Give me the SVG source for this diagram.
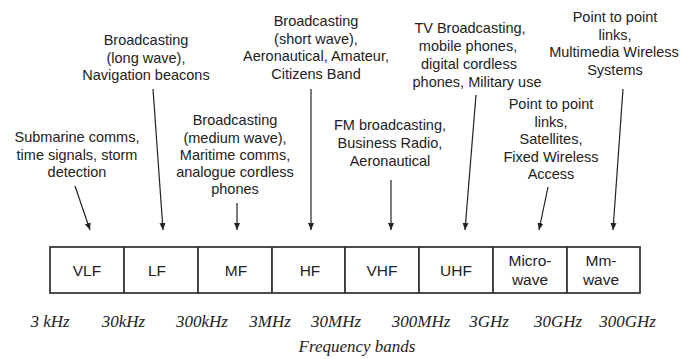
<svg xmlns="http://www.w3.org/2000/svg" width="682" height="359" viewBox="0 0 682 359">
<style>
.t{font-family:"Liberation Sans",Arial,sans-serif;font-size:14.5px;fill:#222;text-anchor:middle}
.b{font-family:"Liberation Sans",Arial,sans-serif;font-size:15.5px;fill:#222;text-anchor:middle}
.f{font-family:"Liberation Serif","Times New Roman",serif;font-style:italic;font-size:17px;fill:#222;text-anchor:middle}
.c{fill:#fff;stroke:#3a3a3a;stroke-width:1.8}
.a{stroke:#222;stroke-width:1.2;fill:none;marker-end:url(#ah)}
</style>
<defs>
<marker id="ah" markerUnits="userSpaceOnUse" markerWidth="8" markerHeight="8" viewBox="0 0 8 8" refX="7" refY="4" orient="auto">
<path d="M0,1 L7,4 L0,7 Z" fill="#222"/>
</marker>
</defs>
<rect width="682" height="359" fill="#fff"/>
<g id="connectors">
<line class="a" x1="75" y1="186" x2="90" y2="230"/>
<line class="a" x1="153" y1="89" x2="163" y2="230"/>
<line class="a" x1="237" y1="203" x2="237" y2="230"/>
<line class="a" x1="311" y1="89" x2="311" y2="230"/>
<line class="a" x1="391" y1="180" x2="391" y2="230"/>
<line class="a" x1="476" y1="95" x2="465" y2="230"/>
<line class="a" x1="548" y1="187" x2="539" y2="230"/>
<line class="a" x1="623" y1="89" x2="613" y2="230"/>
</g>
<g id="note-vlf">
<text class="t" x="77" y="142">Submarine comms,</text>
<text class="t" x="77" y="159.5">time signals, storm</text>
<text class="t" x="77" y="177">detection</text>
</g>
<g id="note-lf">
<text class="t" x="146" y="45">Broadcasting</text>
<text class="t" x="146" y="62.5">(long wave),</text>
<text class="t" x="146" y="80">Navigation beacons</text>
</g>
<g id="note-mf">
<text class="t" x="235" y="125">Broadcasting</text>
<text class="t" x="235" y="142.5">(medium wave),</text>
<text class="t" x="235" y="160">Maritime comms,</text>
<text class="t" x="235" y="177">analogue cordless</text>
<text class="t" x="235" y="194">phones</text>
</g>
<g id="note-hf">
<text class="t" x="316" y="26">Broadcasting</text>
<text class="t" x="316" y="43.5">(short wave),</text>
<text class="t" x="316" y="61">Aeronautical, Amateur,</text>
<text class="t" x="316" y="78.5">Citizens Band</text>
</g>
<g id="note-vhf">
<text class="t" x="390" y="130">FM broadcasting,</text>
<text class="t" x="390" y="148">Business Radio,</text>
<text class="t" x="390" y="166">Aeronautical</text>
</g>
<g id="note-uhf">
<text class="t" x="470" y="33">TV Broadcasting,</text>
<text class="t" x="468" y="51">mobile phones,</text>
<text class="t" x="469" y="68.5">digital cordless</text>
<text class="t" x="477" y="86.5">phones, Military use</text>
</g>
<g id="note-microwave">
<text class="t" x="551" y="109">Point to point</text>
<text class="t" x="551" y="126.5">links,</text>
<text class="t" x="551" y="144">Satellites,</text>
<text class="t" x="551" y="161.5">Fixed Wireless</text>
<text class="t" x="551" y="179">Access</text>
</g>
<g id="note-mmwave">
<text class="t" x="615" y="22">Point to point</text>
<text class="t" x="615" y="39.5">links,</text>
<text class="t" x="614" y="57">Multimedia Wireless</text>
<text class="t" x="615" y="74.5">Systems</text>
</g>
<g id="band-vlf"><rect class="c" x="50" y="247" width="74" height="46"/><text class="b" x="87" y="276">VLF</text></g>
<g id="band-lf"><rect class="c" x="124" y="247" width="74" height="46"/><text class="b" x="157" y="276">LF</text></g>
<g id="band-mf"><rect class="c" x="198" y="247" width="74" height="46"/><text class="b" x="236" y="276">MF</text></g>
<g id="band-hf"><rect class="c" x="272" y="247" width="73" height="46"/><text class="b" x="310" y="276">HF</text></g>
<g id="band-vhf"><rect class="c" x="345" y="247" width="74" height="46"/><text class="b" x="382" y="276">VHF</text></g>
<g id="band-uhf"><rect class="c" x="419" y="247" width="74" height="46"/><text class="b" x="456" y="276">UHF</text></g>
<g id="band-microwave"><rect class="c" x="493" y="247" width="74" height="46"/><text class="b" x="530" y="266">Micro-</text><text class="b" x="530" y="285">wave</text></g>
<g id="band-mmwave"><rect class="c" x="567" y="247" width="73" height="46"/><text class="b" x="601" y="266">Mm-</text><text class="b" x="601" y="285">wave</text></g>
<g id="freqs">
<text class="f" x="50" y="327">3 kHz</text>
<text class="f" x="123.5" y="327">30kHz</text>
<text class="f" x="202" y="327">300kHz</text>
<text class="f" x="270" y="327">3MHz</text>
<text class="f" x="336" y="327">30MHz</text>
<text class="f" x="421" y="327">300MHz</text>
<text class="f" x="489" y="327">3GHz</text>
<text class="f" x="558" y="327">30GHz</text>
<text class="f" x="627.5" y="327">300GHz</text>
<text class="f" x="357" y="352">Frequency bands</text>
</g>
</svg>
